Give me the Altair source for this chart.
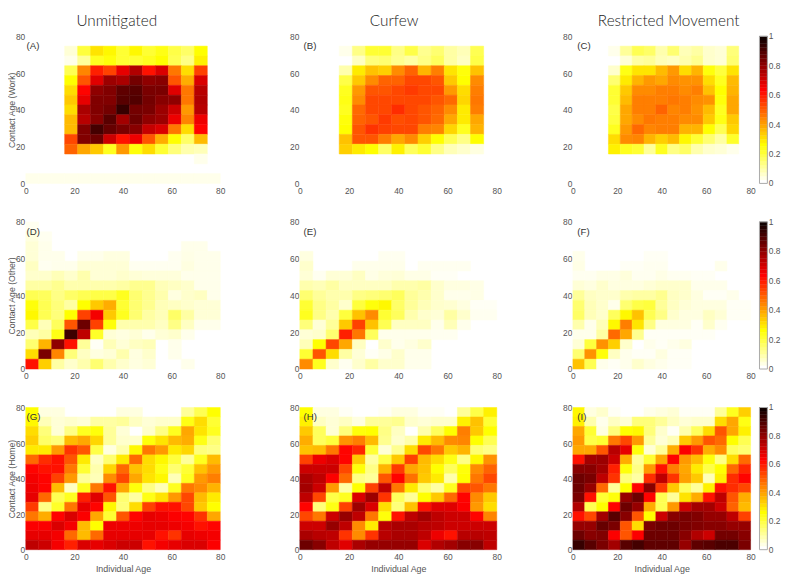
import altair as alt
import pandas as pd

AGE_MAX = 80
N_BINS = 15
TICKS = [0, 20, 40, 60, 80]
BAR_TICKS = [0, 0.2, 0.4, 0.6, 0.8, 1]
BAR_LABELS = ["0", "0.2", "0.4", "0.6", "0.8", "1"]
BAR_LEVELS = [0, .025, .05, .075, .1, .125, .15, .175, .2, .225, .25, .275, .3, .325, .35, .375, .4, .425, .45, .475,
              .5, .525, .55, .575, .6, .625, .65, .675, .7, .725, .75, .775, .8, .825, .85, .875, .9, .925, .95, .975]
BAR_STEP = .025
COLOR_STOPS = [0, 0.25, 0.625, 1]
COLOR_RANGE = ["#ffffff", "#ffff00", "#ff0000", "#000000"]
LETTER_X = [0.3, 1.5, 2.0]
LETTER_Y = 74.6
e = [0] * 3  # three empty leading cells in the work panels
z11 = [0] * 15

# every panel: rows listed from the top row (age 75-80) to the bottom row (age 0-5)
A = [
    z11,
    e + [.04,.19,.29,.26,.20,.26,.20,.23,.18,.15,.25,0],
    e + [.02,.10,.22,.24,.20,.20,.22,.25,.17,.12,.27,0],
    e + [.17,.43,.58,.53,.66,.74,.60,.68,.45,.30,.53,0],
    e + [.25,.50,.67,.77,.75,.83,.79,.80,.50,.37,.68,0],
    e + [.30,.62,.79,.81,.86,.87,.82,.82,.67,.45,.73,0],
    e + [.33,.66,.81,.81,.87,.88,.83,.80,.79,.45,.74,0],
    e + [.30,.75,.81,.83,.92,.83,.82,.77,.70,.40,.73,0],
    e + [.35,.73,.80,.87,.76,.84,.79,.77,.65,.43,.65,0],
    e + [.35,.81,.90,.85,.82,.80,.71,.68,.45,.30,.62,0],
    e + [.52,.81,.84,.70,.60,.65,.50,.37,.25,.15,.35,0],
    e + [.48,.38,.33,.22,.40,.24,.30,.20,.13,.08,.07,0],
    [0,0,0,0,0,0,0,0,0,0,0,0,0,.02,0],
    z11,
    [.02,.02,.02,.02,.02,.02,.02,.02,.02,.02,.02,.02,.02,.02,.02],
]
B = [
    z11,
    e + [.02,.12,.20,.20,.12,.18,.11,.14,.09,.07,.17,0],
    e + [0,.06,.13,.14,.11,.09,.12,.16,.09,.06,.18,0],
    e + [.08,.28,.34,.32,.42,.48,.36,.44,.29,.24,.34,0],
    e + [.18,.33,.42,.48,.48,.52,.52,.50,.33,.25,.42,0],
    e + [.22,.40,.50,.50,.52,.54,.52,.52,.40,.30,.44,0],
    e + [.23,.42,.52,.52,.52,.52,.52,.50,.47,.31,.45,0],
    e + [.22,.47,.52,.52,.56,.52,.50,.48,.42,.28,.44,0],
    e + [.24,.48,.50,.54,.51,.52,.50,.47,.38,.28,.38,0],
    e + [.25,.50,.55,.53,.52,.52,.44,.43,.31,.22,.36,0],
    e + [.34,.50,.50,.44,.38,.42,.32,.25,.17,.12,.25,0],
    e + [.32,.28,.25,.15,.27,.16,.20,.12,.07,.05,.03,0],
    z11, z11, z11,
]
C = [
    z11,
    e + [.02,.10,.17,.15,.08,.14,.07,.09,.05,.04,.13,0],
    e + [0,.04,.09,.10,.07,.06,.08,.11,.05,.04,.14,0],
    e + [.05,.23,.29,.29,.35,.40,.30,.36,.24,.19,.29,0],
    e + [.14,.28,.36,.40,.38,.42,.41,.41,.30,.22,.35,0],
    e + [.20,.33,.42,.42,.44,.44,.42,.44,.34,.25,.36,0],
    e + [.20,.35,.44,.44,.44,.45,.44,.42,.41,.24,.38,0],
    e + [.18,.38,.44,.44,.48,.43,.44,.41,.35,.22,.38,0],
    e + [.19,.38,.42,.45,.44,.44,.42,.42,.33,.23,.33,0],
    e + [.22,.40,.47,.43,.44,.44,.36,.36,.25,.17,.31,0],
    e + [.30,.42,.43,.36,.32,.35,.26,.20,.14,.09,.21,0],
    e + [.27,.22,.20,.10,.22,.12,.15,.08,.05,.04,.02,0],
    z11, z11, z11,
]
D = [
    [.015,0,0,0,0,0,0,0,0,0,0,0,0,0,0],
    [.03,.015,0,0,0,0,0,0,0,0,0,0,0,0,0],
    [.04,.02,0,0,0,0,0,0,0,0,0,0,.02,.02,0],
    [.04,.02,.02,0,.02,.02,.03,.03,0,0,0,.015,.025,.02,.02],
    [.06,.015,.02,.02,.04,.04,.04,.04,.015,.015,.015,.015,.03,.02,.02],
    [.05,.05,.07,.05,.08,.04,.04,.05,.04,.035,.035,.035,.02,.02,.02],
    [.09,.09,.11,.08,.08,.08,.08,.09,.11,.11,.07,.06,.05,.02,.02],
    [.17,.16,.12,.15,.17,.18,.18,.22,.14,.11,.08,.03,.05,.06,.02],
    [.24,.17,.13,.09,.25,.33,.37,.20,.14,.11,.07,.06,.05,.04,.04],
    [.26,.17,.13,.25,.53,.64,.33,.22,.14,.09,.07,.15,.09,.04,.04],
    [.18,.07,.16,.50,.84,.53,.24,.08,.08,.08,.06,.12,.06,.02,.02],
    [.07,.09,.23,.91,.72,.21,.04,.03,.04,.02,.04,.05,.02,0,0],
    [.14,.36,.79,.60,.10,.01,.07,.04,.06,.07,0,.02,0,0,0],
    [.30,.82,.43,.13,.06,.03,.04,.08,.03,.05,0,.02,0,0,0],
    [.60,.32,.09,.05,.08,.14,.08,.05,.03,.04,0,0,.02,0,0],
]
E = [
    z11, z11, z11,
    [.03,0,0,0,0,0,.015,.015,0,0,0,0,0,0,0],
    [.05,0,0,0,.02,.02,.02,.02,0,.015,.015,.015,.015,0,0],
    [.04,.015,.04,.04,.06,.025,.035,.04,.025,.025,.01,.01,0,0,0],
    [.08,.07,.09,.06,.06,.06,.06,.08,.08,.09,.05,.03,.03,.025,0],
    [.14,.10,.08,.08,.12,.13,.14,.16,.10,.08,.05,.02,.02,.025,0],
    [.20,.12,.09,.05,.19,.24,.26,.15,.10,.07,.05,.045,.03,.01,.01],
    [.22,.12,.08,.19,.34,.42,.20,.16,.08,.05,.04,.09,.05,.015,.015],
    [.13,.04,.10,.33,.53,.34,.17,.06,.06,.06,.02,.07,.02,0,0],
    [.04,.05,.14,.58,.45,.16,.02,.02,.02,.02,.015,.015,0,0,0],
    [.07,.25,.52,.38,.06,0,.05,.02,.03,.05,0,0,0,0,0],
    [.20,.50,.30,.09,.04,.01,.025,.05,.02,.02,0,0,0,0,0],
    [.42,.22,.05,.015,.05,.09,.05,.05,.02,.02,0,0,0,0,0],
]
F = [
    z11, z11, z11,
    [.02,0,0,0,0,0,.01,.01,0,0,0,0,0,0,0],
    [.025,0,0,0,.01,.01,.015,.015,0,0,0,0,.02,0,0],
    [.015,.015,.025,.025,.035,.015,.015,.025,.015,.015,.01,.01,0,0,0],
    [.04,.03,.05,.03,.03,.03,.04,.05,.05,.05,.02,.02,.02,0,0],
    [.10,.06,.05,.05,.08,.09,.09,.11,.06,.05,.03,.01,.01,.02,0],
    [.14,.07,.05,.02,.14,.18,.19,.10,.06,.04,.03,.03,.03,.01,.01],
    [.15,.07,.05,.16,.26,.34,.17,.12,.05,.03,.03,.06,.04,.01,.01],
    [.08,.02,.07,.26,.44,.29,.12,.03,.03,.03,.01,.05,.015,0,0],
    [.02,.02,.09,.47,.38,.11,.01,.01,.01,.01,.01,.01,0,0,0],
    [.04,.19,.41,.32,.05,0,.02,.01,.02,.03,0,0,0,0,0],
    [.14,.41,.24,.06,.02,.01,.01,.03,.01,.01,0,0,0,0,0],
    [.34,.17,.02,.01,.02,.05,.03,.02,.01,.01,0,0,0,0,0],
]
G = [
    [.25,.03,.03,0,0,0,0,.03,.03,0,0,0,.10,.17,.25],
    [.26,.07,.04,.05,.04,.09,.09,.10,.06,.04,.05,.05,.23,.30,.20],
    [.30,.13,.04,.12,.22,.24,.10,.04,0,.05,.12,.22,.38,.29,.22],
    [.32,.15,.13,.35,.38,.31,.10,.05,.05,.24,.29,.35,.37,.23,.14],
    [.28,.28,.40,.55,.50,.18,.03,.08,.26,.45,.40,.28,.31,.13,.12],
    [.47,.56,.60,.50,.28,.06,.14,.28,.47,.30,.26,.19,.10,.22,.35],
    [.62,.60,.60,.45,.20,.08,.31,.47,.34,.30,.23,.14,.20,.34,.40],
    [.64,.62,.53,.40,.10,.07,.42,.52,.38,.29,.26,.07,.22,.40,.44],
    [.65,.62,.35,.06,.22,.45,.60,.38,.24,.12,.07,.22,.45,.42,.36],
    [.66,.47,.17,.22,.58,.67,.50,.14,.09,.23,.29,.40,.52,.35,.28],
    [.54,.12,.21,.45,.66,.62,.26,.13,.30,.53,.60,.60,.52,.33,.25],
    [.45,.37,.62,.68,.63,.38,.20,.50,.62,.66,.65,.63,.62,.55,.38],
    [.63,.63,.68,.64,.35,.25,.65,.65,.65,.66,.66,.65,.64,.60,.62],
    [.66,.66,.64,.47,.35,.47,.66,.66,.66,.66,.60,.55,.66,.65,.64],
    [.72,.70,.64,.58,.68,.66,.68,.70,.70,.60,.64,.66,.68,.68,.63],
]
H = [
    [.25,.03,.03,.01,0,0,.01,.03,.03,.01,.01,0,.10,.18,.27],
    [.27,.06,.04,.06,.03,.10,.10,.11,.05,.04,.05,.05,.27,.34,.20],
    [.33,.16,.04,.13,.24,.25,.12,.06,0,.08,.16,.25,.44,.33,.25],
    [.37,.16,.19,.41,.44,.35,.11,.05,.08,.28,.35,.42,.43,.25,.17],
    [.34,.35,.45,.62,.57,.20,.04,.11,.30,.52,.45,.33,.36,.14,.12],
    [.53,.65,.68,.62,.33,.09,.18,.33,.53,.35,.30,.23,.12,.26,.41],
    [.70,.70,.70,.52,.24,.12,.36,.54,.38,.34,.25,.16,.24,.42,.48],
    [.75,.72,.63,.47,.12,.10,.50,.62,.46,.33,.28,.08,.25,.45,.52],
    [.76,.70,.40,.09,.25,.53,.72,.45,.28,.14,.09,.22,.52,.50,.45],
    [.72,.52,.18,.22,.68,.77,.55,.16,.10,.25,.33,.47,.62,.42,.33],
    [.62,.13,.23,.53,.77,.68,.30,.13,.34,.60,.67,.67,.63,.40,.30],
    [.52,.45,.70,.78,.72,.45,.24,.60,.72,.76,.72,.70,.70,.62,.43],
    [.70,.70,.78,.72,.42,.28,.73,.75,.75,.73,.72,.70,.70,.70,.70],
    [.75,.73,.72,.55,.42,.55,.73,.75,.75,.72,.65,.60,.73,.73,.72],
    [.84,.80,.72,.67,.75,.78,.78,.78,.78,.68,.74,.76,.80,.80,.72],
]
I = [
    [.26,.03,.05,.01,0,0,.02,.03,.04,.01,.01,.01,.10,.22,.32],
    [.27,.08,.02,.06,.04,.13,.13,.10,.06,.04,.05,.05,.30,.38,.23],
    [.38,.20,.03,.13,.25,.26,.13,.05,.01,.08,.16,.30,.50,.38,.27],
    [.40,.18,.20,.45,.52,.40,.10,.04,.07,.33,.40,.50,.47,.25,.17],
    [.38,.38,.50,.73,.66,.24,.04,.10,.37,.63,.55,.37,.42,.16,.14],
    [.60,.76,.77,.70,.37,.10,.20,.38,.62,.40,.35,.24,.12,.30,.47],
    [.80,.80,.76,.58,.24,.12,.40,.60,.44,.38,.28,.18,.25,.47,.57],
    [.84,.82,.72,.55,.13,.09,.56,.72,.55,.39,.33,.07,.27,.56,.62],
    [.84,.78,.47,.10,.25,.62,.80,.54,.33,.16,.10,.27,.60,.56,.52],
    [.82,.60,.20,.24,.78,.84,.62,.17,.10,.29,.37,.60,.72,.50,.37],
    [.74,.17,.25,.62,.84,.78,.37,.17,.40,.70,.76,.76,.70,.48,.35],
    [.60,.52,.76,.87,.80,.50,.25,.70,.80,.82,.81,.78,.78,.72,.53],
    [.78,.78,.85,.82,.50,.30,.82,.84,.84,.82,.81,.80,.80,.78,.78],
    [.84,.80,.81,.63,.50,.63,.84,.84,.84,.80,.74,.70,.83,.83,.80],
    [.92,.87,.82,.76,.87,.90,.86,.86,.86,.78,.86,.87,.89,.89,.82],
]

TEXT = "#555555"
W1, W2, W3 = 205.3, 199.5, 180
X_RANGES = [[0, 197], [0, 199.5], [0, 180]]
H1, H3 = 149, 144
TITLE_DX = [-10.5, -4.3, 7]
BAR_X0, BAR_X1, BAR_LABEL_X = 189, 197, 198.5


def panel(rows, letter, col, h, title=None, ytitle=None, xtitle=None, bar=False):
    w = [W1, W2, W3][col]
    step = AGE_MAX / N_BINS
    recs = []
    for r, row in enumerate(rows):
        b = N_BINS - 1 - r
        for c, v in enumerate(row):
            if v > 0:
                recs.append({"x0": c * step, "x1": (c + 1) * step,
                             "y0": b * step, "y1": (b + 1) * step, "v": v})
    df = pd.DataFrame(recs)
    xaxis = alt.Axis(values=TICKS, domain=False, ticks=False, grid=False, labelPadding=3,
                     labelColor=TEXT, labelFontSize=8.5, labelFont="Liberation Sans", labelOverlap=False,
                     title=xtitle, titleColor=TEXT, titleFontSize=9, titleFontWeight="normal",
                     titleFont="Liberation Sans", titlePadding=4, labelFlush=False)
    yaxis = alt.Axis(values=TICKS, domain=False, ticks=False, grid=False, labelPadding=1,
                     labelColor=TEXT, labelFontSize=8.5, labelFont="Liberation Sans", labelOverlap=False,
                     title=ytitle, titleColor=TEXT, titleFontSize=8.8, titleFontWeight="normal",
                     titleFont="Liberation Sans", titlePadding=-1.5, labelFlush=False)
    xscale = alt.Scale(domain=[0, AGE_MAX], nice=False, range=X_RANGES[col])
    yscale = alt.Scale(domain=[0, AGE_MAX], nice=False)
    cscale = alt.Scale(domain=COLOR_STOPS, range=COLOR_RANGE, interpolate="rgb")
    rect = alt.Chart(df).mark_rect(strokeWidth=0.5).encode(
        x=alt.X("x0:Q", scale=xscale, axis=xaxis),
        x2="x1:Q",
        y=alt.Y("y0:Q", scale=yscale, axis=yaxis),
        y2="y1:Q",
        color=alt.Color("v:Q", legend=None, scale=cscale),
        stroke=alt.Stroke("v:Q", legend=None, scale=cscale),
    )
    lab = alt.Chart(pd.DataFrame({"x": [LETTER_X[col]], "y": [LETTER_Y], "t": [letter]})).mark_text(
        align="left", baseline="middle", fontSize=9.8, font="Liberation Sans", color="#333333"
    ).encode(x=alt.X("x:Q", scale=xscale, axis=xaxis), y=alt.Y("y:Q", scale=yscale, axis=yaxis), text="t:N")
    layers = [rect, lab]
    if bar:
        bar_df = pd.DataFrame({"v": BAR_LEVELS})
        bar_df["y0"] = bar_df["v"] * AGE_MAX
        bar_df["y1"] = (bar_df["v"] + BAR_STEP) * AGE_MAX
        ramp = alt.Chart(bar_df).mark_rect(strokeWidth=0.4).encode(
            x=alt.value(BAR_X0), x2=alt.value(BAR_X1),
            y=alt.Y("y0:Q", scale=yscale, axis=yaxis), y2="y1:Q",
            color=alt.Color("v:Q", legend=None, scale=cscale),
            stroke=alt.Stroke("v:Q", legend=None, scale=cscale),
        )
        frame = alt.Chart(pd.DataFrame({"y0": [0], "y1": [AGE_MAX]})).mark_rect(
            fillOpacity=0, stroke="#aaaaaa", strokeWidth=1
        ).encode(x=alt.value(BAR_X0), x2=alt.value(BAR_X1),
                 y=alt.Y("y0:Q", scale=yscale, axis=yaxis), y2="y1:Q")
        tick_df = pd.DataFrame({"t": BAR_LABELS, "y": [v * AGE_MAX for v in BAR_TICKS]})
        ticks = alt.Chart(tick_df).mark_text(
            align="left", baseline="middle", fontSize=8.5, font="Liberation Sans", color=TEXT
        ).encode(x=alt.value(BAR_LABEL_X), y=alt.Y("y:Q", scale=yscale, axis=yaxis), text="t:N")
        layers += [ramp, frame, ticks]
    ch = alt.layer(*layers).properties(width=w, height=h)
    if title:
        ch = ch.properties(title=alt.TitleParams(title, font="Lato", fontSize=15.5, fontWeight=300,
                                                 color="#222222", offset=3, anchor="middle",
                                                 dx=TITLE_DX[col]))
    return ch


panels = [
    panel(A, "(A)", 0, H1, "Unmitigated", "Contact Age (Work)"),
    panel(B, "(B)", 1, H1, "Curfew"),
    panel(C, "(C)", 2, H1, "Restricted Movement", bar=True),
    panel(D, "(D)", 0, H1, None, "Contact Age (Other)"),
    panel(E, "(E)", 1, H1),
    panel(F, "(F)", 2, H1, bar=True),
    panel(G, "(G)", 0, H3, None, "Contact Age (Home)", "Individual Age"),
    panel(H, "(H)", 1, H3, None, None, "Individual Age"),
    panel(I, "(I)", 2, H3, None, None, "Individual Age", bar=True),
]

chart = (
    alt.concat(*panels, columns=3, spacing=alt.RowColnumber(row=23, column=60.6))
    .properties(padding={"left": 0, "top": 2, "right": 0, "bottom": 0})
    .configure_view(stroke=None)
)
chart.save("out.html", embed_options={"renderer": "svg", "actions": False})
